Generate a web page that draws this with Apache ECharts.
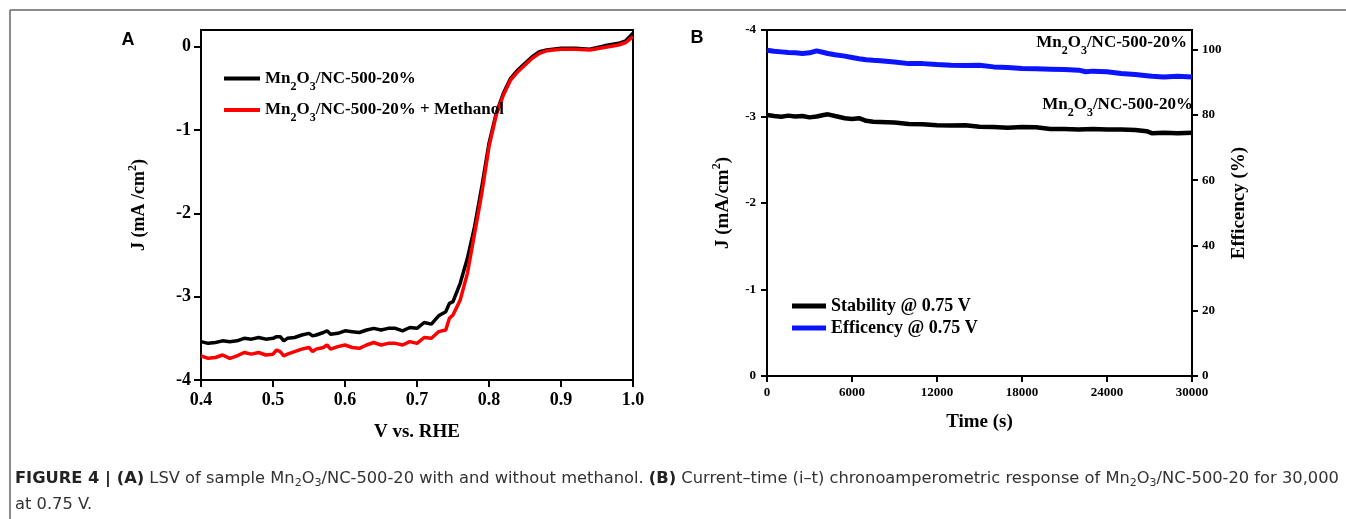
<!DOCTYPE html>
<html>
<head>
<meta charset="utf-8">
<script src="https://cdn.jsdelivr.net/npm/echarts@6/dist/echarts.min.js"></script>
<style>
  html, body { margin: 0; padding: 0; background: #fff; }
  #main { width: 1346px; height: 519px; }
</style>
</head>
<body>
<div id="main"></div>
<script>
// panel A : LSV
var voltA = [0.40, 0.41, 0.42, 0.43, 0.44, 0.45, 0.46, 0.47, 0.48, 0.49, 0.50, 0.505, 0.51, 0.515, 0.52, 0.53, 0.54, 0.55, 0.555, 0.56, 0.57, 0.575,
    0.58, 0.59, 0.60, 0.61, 0.62, 0.63, 0.64, 0.65, 0.66, 0.67, 0.68, 0.69, 0.70, 0.71, 0.72, 0.73, 0.74, 0.745,
    0.75, 0.76, 0.77, 0.78, 0.79, 0.80, 0.81, 0.82, 0.83, 0.84, 0.85, 0.86, 0.87, 0.88, 0.90, 0.92, 0.94, 0.96, 0.98, 0.99, 1.00];
var jNoMethanol = [-3.54, -3.56, -3.55, -3.53, -3.54, -3.53, -3.50, -3.51, -3.49, -3.51, -3.50, -3.48, -3.48, -3.53, -3.50, -3.49, -3.46, -3.44, -3.47, -3.46, -3.43, -3.41,
    -3.45, -3.44, -3.41, -3.42, -3.43, -3.40, -3.38, -3.40, -3.38, -3.38, -3.41, -3.37, -3.38, -3.31, -3.33, -3.23, -3.18, -3.08,
    -3.06, -2.84, -2.54, -2.16, -1.68, -1.16, -0.80, -0.56, -0.38, -0.28, -0.20, -0.12, -0.06, -0.04, -0.02, -0.02, -0.03, 0.01, 0.04, 0.07, 0.16];
var jMethanol = [-3.71, -3.74, -3.73, -3.70, -3.74, -3.71, -3.67, -3.69, -3.67, -3.70, -3.69, -3.64, -3.66, -3.71, -3.69, -3.66, -3.63, -3.61, -3.66, -3.63, -3.61, -3.58,
    -3.63, -3.60, -3.58, -3.61, -3.62, -3.58, -3.55, -3.58, -3.56, -3.56, -3.58, -3.54, -3.56, -3.49, -3.50, -3.42, -3.40, -3.26,
    -3.22, -3.04, -2.72, -2.24, -1.76, -1.20, -0.82, -0.58, -0.40, -0.30, -0.22, -0.14, -0.08, -0.05, -0.03, -0.03, -0.04, -0.01, 0.02, 0.05, 0.12];
var ticksVA = [0.4, 0.5, 0.6, 0.7, 0.8, 0.9, 1.0];
var ticksJA = [-4, -3, -2, -1, 0];

// panel B : i-t
var timeB = [0, 500, 1000, 1500, 2000, 2500, 3000, 3500, 4000, 4300, 4800, 5500, 6000, 6500, 7000, 7500, 8000, 9000, 10000, 11000,
    12000, 13000, 14000, 15000, 16000, 17000, 18000, 19000, 20000, 21000, 22000, 22500, 23000, 24000, 25000, 26000, 26800, 27200, 28000, 29000, 30000];
var jStability = [-3.017, -3.006, -2.998, -3.01, -3.0, -3.006, -2.99, -3.0, -3.017, -3.025, -3.006, -2.98, -2.97, -2.98, -2.95, -2.94, -2.937, -2.93, -2.913, -2.91,
    -2.90, -2.895, -2.90, -2.882, -2.879, -2.871, -2.879, -2.875, -2.856, -2.856, -2.85, -2.853, -2.856, -2.85, -2.85, -2.844, -2.83, -2.805, -2.813, -2.805, -2.813];
var efficiency = [99.8, 99.5, 99.3, 99.1, 99.0, 98.8, 99.0, 99.6, 99.1, 98.8, 98.4, 98.0, 97.6, 97.2, 96.9, 96.7, 96.6, 96.2, 95.7, 95.7,
    95.4, 95.2, 95.1, 95.2, 94.7, 94.5, 94.2, 94.1, 94.0, 93.9, 93.7, 93.2, 93.4, 93.2, 92.7, 92.4, 92.0, 91.8, 91.6, 91.8, 91.6];
var ticksTB = [0, 6000, 12000, 18000, 24000, 30000];
var ticksJB = [-4, -3, -2, -1, 0];
var ticksEB = [0, 20, 40, 60, 80, 100];

var serif = "'Liberation Serif', 'Times New Roman', serif";
var sans = "'Liberation Sans', Arial, sans-serif";
var capFont = "'DejaVu Sans', 'Liberation Sans', sans-serif";

function pairs(xs, ys) {
    return xs.map(function (x, i) { return [x, ys[i]]; });
}

// rich styles for Mn2O3 labels
var mnRich = {
    n: { fontFamily: serif, fontWeight: 'bold', fontSize: 17, color: '#000', lineHeight: 28 },
    s: { fontFamily: serif, fontWeight: 'bold', fontSize: 12, color: '#000', lineHeight: 12, verticalAlign: 'bottom' }
};
var mnText = '{n|Mn}{s|2}{n|O}{s|3}{n|/NC-500-20%}';

var titleRich = {
    n: { fontFamily: serif, fontWeight: 'bold', fontSize: 18, color: '#000', lineHeight: 24 },
    p: { fontFamily: serif, fontWeight: 'bold', fontSize: 12, color: '#000', lineHeight: 12, verticalAlign: 'top' }
};

function axisCommon(values, tickLen) {
    return {
        axisLine: { show: true, onZero: false, lineStyle: { color: '#000', width: 2 } },
        axisTick: { show: true, inside: false, customValues: values, length: tickLen, lineStyle: { color: '#000', width: 2 } },
        splitLine: { show: false }
    };
}

var dom = echarts.init(document.getElementById('main'));

var option = {
    backgroundColor: '#fff',
    animation: false,
    grid: [
        { left: 201, top: 30, width: 432, height: 350, show: true, borderColor: '#000', borderWidth: 2 },
        { left: 767, top: 30, width: 425, height: 346, show: true, borderColor: '#000', borderWidth: 2 }
    ],
    legend: [{
        left: 219, top: 65, orient: 'vertical',
        icon: 'rect', itemWidth: 36, itemHeight: 4, itemGap: 9,
        data: ['Mn2O3/NC-500-20%', 'Mn2O3/NC-500-20% + Methanol'],
        formatter: function (name) {
            return name.indexOf('Methanol') > 0 ? mnText + '{n| + Methanol}' : mnText;
        },
        textStyle: { rich: mnRich }
    }, {
        left: 787, top: 290, orient: 'vertical',
        icon: 'rect', itemWidth: 34, itemHeight: 5, itemGap: 0,
        data: ['Stability @ 0.75 V', 'Efficency @ 0.75 V'],
        textStyle: { fontFamily: serif, fontWeight: 'bold', fontSize: 18, color: '#000', lineHeight: 22 }
    }],
    xAxis: [Object.assign({
        gridIndex: 0, type: 'value', min: 0.4, max: 1.0,
        name: 'V vs. RHE', nameLocation: 'middle', nameGap: 43,
        nameTextStyle: { fontFamily: serif, fontWeight: 'bold', fontSize: 19, color: '#000' },
        axisLabel: {
            customValues: ticksVA, margin: 11,
            fontFamily: serif, fontWeight: 'bold', fontSize: 18, color: '#000',
            formatter: function (v) { return v.toFixed(1); }
        }
    }, axisCommon(ticksVA, 7)), Object.assign({
        gridIndex: 1, type: 'value', min: 0, max: 30000, interval: 6000,
        name: 'Time (s)', nameLocation: 'middle', nameGap: 37,
        nameTextStyle: { fontFamily: serif, fontWeight: 'bold', fontSize: 19, color: '#000' },
        axisLabel: {
            customValues: ticksTB, margin: 10, fontFamily: serif, fontWeight: 'bold', fontSize: 13, color: '#000',
            formatter: function (v) { return String(v); }
        }
    }, axisCommon(ticksTB, 6))],
    yAxis: [Object.assign({
        gridIndex: 0, type: 'value', min: -4, max: 0.2,
        name: '{n|J (mA /cm}{p|2}{n|)}', nameLocation: 'middle', nameGap: 50, nameRotate: 90,
        nameTextStyle: { rich: titleRich },
        axisLabel: {
            customValues: ticksJA, margin: 10,
            fontFamily: serif, fontWeight: 'bold', fontSize: 18, color: '#000'
        }
    }, axisCommon(ticksJA, 7)), Object.assign({
        gridIndex: 1, type: 'value', min: -4, max: 0, interval: 1, inverse: true,
        name: '{n|J (mA/cm}{p|2}{n|)}', nameLocation: 'middle', nameGap: 32, nameRotate: 90,
        nameTextStyle: { rich: { n: Object.assign({}, titleRich.n, { fontSize: 19 }), p: titleRich.p } },
        axisLabel: { customValues: ticksJB, margin: 11, fontFamily: serif, fontWeight: 'bold', fontSize: 13, color: '#000' }
    }, axisCommon(ticksJB, 6)), Object.assign({
        gridIndex: 1, type: 'value', min: 0, max: 106, position: 'right',
        name: 'Efficency (%)', nameLocation: 'middle', nameGap: 38, nameRotate: 90,
        nameTextStyle: { fontFamily: serif, fontWeight: 'bold', fontSize: 19, color: '#000' },
        axisLabel: { customValues: ticksEB, margin: 10, fontFamily: serif, fontWeight: 'bold', fontSize: 13, color: '#000' }
    }, axisCommon(ticksEB, 6))],
    series: [{
        name: 'Mn2O3/NC-500-20%', type: 'line', xAxisIndex: 0, yAxisIndex: 0,
        showSymbol: false, color: '#000', lineStyle: { width: 3.5, color: '#000' },
        data: pairs(voltA, jNoMethanol)
    }, {
        name: 'Mn2O3/NC-500-20% + Methanol', type: 'line', xAxisIndex: 0, yAxisIndex: 0,
        showSymbol: false, color: '#ff0000', lineStyle: { width: 3.5, color: '#ff0000' },
        data: pairs(voltA, jMethanol)
    }, {
        name: 'Stability @ 0.75 V', type: 'line', xAxisIndex: 1, yAxisIndex: 1,
        showSymbol: false, color: '#000', lineStyle: { width: 4.5, color: '#000' },
        data: pairs(timeB, jStability)
    }, {
        name: 'Efficency @ 0.75 V', type: 'line', xAxisIndex: 1, yAxisIndex: 2,
        showSymbol: false, color: '#0a14ff', lineStyle: { width: 5, color: '#0a14ff' },
        data: pairs(timeB, efficiency)
    }],
    graphic: [
        // figure frame
        { type: 'line', shape: { x1: 10, y1: 10, x2: 1346, y2: 10 }, style: { stroke: '#666', lineWidth: 1.5 } },
        { type: 'line', shape: { x1: 10, y1: 10, x2: 10, y2: 519 }, style: { stroke: '#666', lineWidth: 1.5 } },
        // panel letters
        { type: 'text', x: 128, y: 40, style: { text: 'A', font: 'bold 18px ' + sans, fill: '#000', align: 'center', verticalAlign: 'middle' } },
        { type: 'text', x: 697, y: 38, style: { text: 'B', font: 'bold 18px ' + sans, fill: '#000', align: 'center', verticalAlign: 'middle' } },
        // curve labels in B
        { type: 'text', x: 1187, y: 43, style: { text: mnText, rich: mnRich, align: 'right', verticalAlign: 'middle' } },
        { type: 'text', x: 1193, y: 105, style: { text: mnText, rich: mnRich, align: 'right', verticalAlign: 'middle' } },
        // caption
        {
            type: 'text', x: 15, y: 479,
            style: {
                text: '{b|FIGURE 4 | (A)}{r| LSV of sample Mn}{s|2}{r|O}{s|3}{r|/NC-500-20 with and without methanol. }{b|(B)}{r| Current\u2013time (i\u2013t) chronoamperometric response of Mn}{s|2}{r|O}{s|3}{r|/NC-500-20 for 30,000}',
                verticalAlign: 'middle',
                rich: {
                    b: { fontFamily: capFont, fontWeight: 'bold', fontSize: 16.3, fill: '#222', lineHeight: 20 },
                    r: { fontFamily: capFont, fontSize: 16.3, fill: '#333', lineHeight: 20 },
                    s: { fontFamily: capFont, fontSize: 11, fill: '#333', lineHeight: 10, verticalAlign: 'bottom' }
                }
            }
        },
        { type: 'text', x: 15, y: 505, style: { text: 'at 0.75 V.', font: '16.3px ' + capFont, fill: '#333', verticalAlign: 'middle' } }
    ]
};

dom.setOption(option);
</script>
</body>
</html>
